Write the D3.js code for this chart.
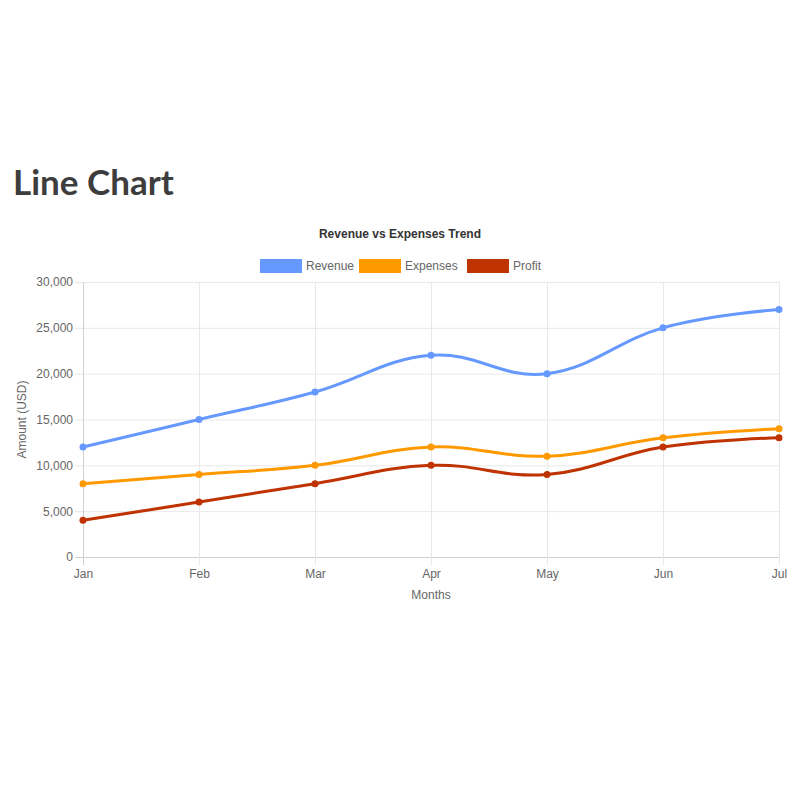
<!DOCTYPE html>
<html>
<head>
<meta charset="utf-8">
<script src="https://cdn.jsdelivr.net/npm/d3@7"></script>
<style>
  body { margin: 0; background: #fff; font-family: "Liberation Sans", Arial, sans-serif; }
  h1 { position: absolute; left: 13px; top: 160px; margin: 0; font-family: Lato, sans-serif; font-size: 35px; font-weight: 700; color: #3d3d3d; }
  #chart { position: absolute; left: 0; top: 210px; }
</style>
</head>
<body>
<h1>Line Chart</h1>
<div id="chart"></div>
<script>
(function(d3) {
    var months = ["Jan", "Feb", "Mar", "Apr", "May", "Jun", "Jul"];
    var seriesNames = ["Revenue", "Expenses", "Profit"];
    var seriesColors = ["#6699ff", "#ff9900", "#bf3300"];
    var revenue = [12000, 15000, 18000, 22000, 20000, 25000, 27000];
    var expenses = [8000, 9000, 10000, 12000, 11000, 13000, 14000];
    var profit = [4000, 6000, 8000, 10000, 9000, 12000, 13000];
    var yTicks = [0, 5000, 10000, 15000, 20000, 25000, 30000];

    var series = [revenue, expenses, profit];

    var width = 800, height = 400;
    var left = 83, right = 779, top = 72, bottom = 347;
    var grey = "#666";

    var svg = d3.select("#chart")
        .append("svg")
        .attr("width", width)
        .attr("height", height)
        .style("font-family", "'Liberation Sans', Arial, sans-serif");

    var x = d3.scalePoint()
        .domain(months)
        .range([left, right]);

    var y = d3.scaleLinear()
        .domain([0, 30000])
        .range([bottom, top]);

// GRID + AXES
    var yAxis = d3.axisLeft(y)
        .tickValues(yTicks)
        .tickSize(-(right - left) - 8)
        .tickPadding(4)
        .tickFormat(d3.format(","));

    var yg = svg.append("g")
        .attr("transform", "translate(" + (left - 8) + ",0)")
        .call(yAxis);
    yg.select(".domain").remove();
    yg.selectAll(".tick line")
        .attr("x1", 0)
        .attr("x2", right - left + 8)
        .attr("stroke", function(d) { return d === 0 ? "#d0d0d0" : "#e8e8e8"; });
    yg.selectAll(".tick text")
        .attr("x", -2)
        .attr("fill", grey)
        .attr("font-size", "12px");

    var xAxis = d3.axisBottom(x)
        .tickSize(-(bottom - top) - 8)
        .tickPadding(6);

    var xg = svg.append("g")
        .attr("transform", "translate(0," + (bottom + 8) + ")")
        .call(xAxis);
    xg.select(".domain").remove();
    xg.selectAll(".tick line")
        .attr("stroke", function(d, i) { return i === 0 ? "#d0d0d0" : "#e8e8e8"; });
    xg.selectAll(".tick text")
        .attr("y", 4)
        .attr("dy", "0.71em")
        .attr("fill", grey)
        .attr("font-size", "12px");

// AXIS TITLES
    svg.append("text")
        .attr("x", (left + right) / 2)
        .attr("y", bottom + 42)
        .attr("text-anchor", "middle")
        .attr("fill", grey)
        .attr("font-size", "12px")
        .text("Months");

    svg.append("text")
        .attr("transform", "translate(26," + ((top + bottom) / 2) + ") rotate(-90)")
        .attr("text-anchor", "middle")
        .attr("fill", grey)
        .attr("font-size", "12px")
        .text("Amount (USD)");

// TITLE + LEGEND
    svg.append("text")
        .attr("x", 400)
        .attr("y", 28)
        .attr("text-anchor", "middle")
        .attr("fill", "#333")
        .attr("font-size", "12px")
        .attr("font-weight", "bold")
        .text("Revenue vs Expenses Trend");

    var legendX = [260, 359, 467];
    var legend = svg.selectAll(".legend")
        .data(seriesNames)
        .enter()
        .append("g")
        .attr("class", "legend")
        .attr("transform", function(d, i) { return "translate(" + legendX[i] + ",49)"; });
    legend.append("rect")
        .attr("width", 42)
        .attr("height", 14)
        .attr("fill", function(d, i) { return seriesColors[i]; });
    legend.append("text")
        .attr("x", 46)
        .attr("y", 11)
        .attr("fill", grey)
        .attr("font-size", "12px")
        .text(function(d) { return d; });

// LINES
    var line = d3.line()
        .x(function(d, i) { return x(months[i]); })
        .y(function(d) { return y(d); })
        .curve(d3.curveCardinal.tension(-0.2));

    svg.selectAll(".line")
        .data(series)
        .enter()
        .append("path")
        .attr("class", "line")
        .attr("d", line)
        .attr("fill", "none")
        .attr("stroke", function(d, i) { return seriesColors[i]; })
        .attr("stroke-width", 3);

    series.forEach(function(s, k) {
        svg.selectAll(".pt" + k)
            .data(s)
            .enter()
            .append("circle")
            .attr("cx", function(d, i) { return x(months[i]); })
            .attr("cy", function(d) { return y(d); })
            .attr("r", 3.5)
            .attr("fill", seriesColors[k]);
    });

})(window.d3);
</script>
</body>
</html>
